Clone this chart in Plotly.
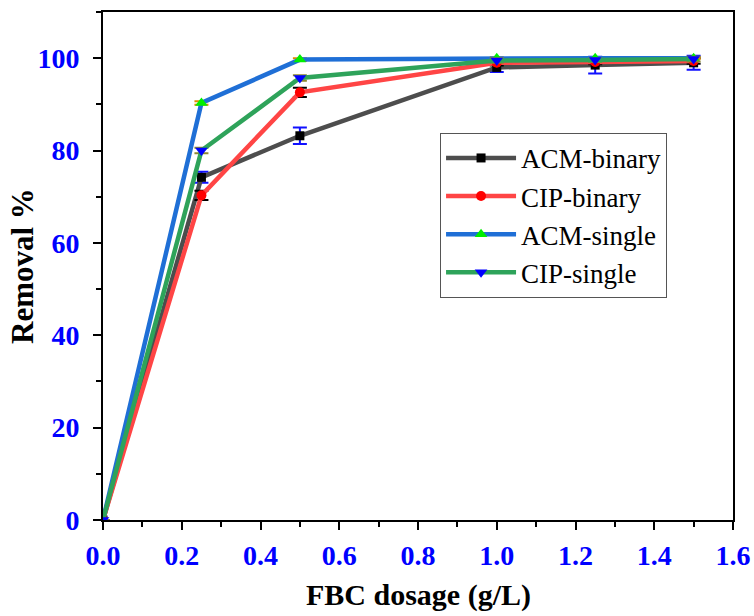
import plotly.graph_objects as go

x = [0, 0.25, 0.5, 1.0, 1.25, 1.5]
acm_binary = [0, 74.2, 83.2, 98.0, 98.5, 99.0]
acm_binary_err = [0, 1.2, 1.8, 1.0, 1.8, 1.5]
cip_binary = [0, 70.3, 92.6, 99.0, 99.2, 99.4]
cip_binary_err = [0, 1.0, 1.0, 0.6, 0.5, 0.6]
acm_single = [0, 90.3, 99.7, 100.0, 100.0, 100.0]
acm_single_err = [0, 0.4, 0.3, 0.2, 0.2, 0.2]
cip_single = [0, 80.0, 95.7, 99.5, 99.6, 99.8]
cip_single_err = [0, 0.6, 0.6, 0.5, 0.4, 0.5]

x_tickvals = [0.0, 0.2, 0.4, 0.6, 0.8, 1.0, 1.2, 1.4, 1.6]
x_ticktext = ["0.0", "0.2", "0.4", "0.6", "0.8", "1.0", "1.2", "1.4", "1.6"]
y_tickvals = [0, 20, 40, 60, 80, 100]
y_ticktext = ["0", "20", "40", "60", "80", "100"]
x_title = "FBC dosage (g/L)"
y_title = "Removal %"

series = [
    ("ACM-binary", acm_binary, acm_binary_err, "#4d4d4d", "square", "#000000", "#1010ff", 9),
    ("CIP-binary", cip_binary, cip_binary_err, "#ff4545", "circle", "#ff0000", "#000000", 10),
    ("ACM-single", acm_single, acm_single_err, "#1f6fd6", "triangle-up", "#00ee00", "#e08a00", 11),
    ("CIP-single", cip_single, cip_single_err, "#2ea35a", "triangle-down", "#0000ff", "#8f8a30", 11),
]

fig = go.Figure()
for name, y, err, lc, sym, mc, ec, ms in series:
    fig.add_trace(go.Scatter(
        x=x, y=y, name=name, mode="lines+markers",
        line=dict(color=lc, width=4.5),
        marker=dict(symbol=sym, color=mc, size=ms, line=dict(width=0)),
        error_y=dict(type="data", array=err, visible=True, color=ec, thickness=2, width=7),
    ))

font = "Liberation Serif"
tickfont = dict(family=font, size=28, color="#0000ff")

fig.update_layout(
    width=754, height=616,
    margin=dict(l=103, r=21, t=12, b=96),
    plot_bgcolor="white", paper_bgcolor="white",
    showlegend=True,
    legend=dict(
        x=0.535, y=0.762, xanchor="left", yanchor="top",
        bgcolor="white", bordercolor="#555555", borderwidth=1,
        font=dict(family=font, size=27, color="black"),
        itemwidth=70, tracegroupgap=0,
    ),
    annotations=[
        dict(text="<b>" + x_title + "</b>", xref="paper", yref="paper", x=0.5, y=0,
             yshift=-94, xanchor="center", yanchor="bottom", showarrow=False,
             font=dict(family=font, size=30, color="black")),
        dict(text="<b>" + y_title + "</b>", xref="paper", yref="paper", x=0, y=0.5,
             xshift=-81, xanchor="center", yanchor="middle", showarrow=False, textangle=-90,
             font=dict(family=font, size=31, color="black")),
    ],
)
fig.update_xaxes(
    range=[0, 1.6], tickmode="array", tickvals=x_tickvals,
    ticktext=["<b>" + t + "</b>" for t in x_ticktext],
    tickfont=tickfont, ticklabelstandoff=1, automargin=False,
    showline=True, linecolor="black", linewidth=2, mirror=True,
    ticks="outside", ticklen=8, tickwidth=2, tickcolor="black",
    showgrid=False, zeroline=False,
    minor=dict(ticks="outside", dtick=0.1, ticklen=5, tickwidth=2, tickcolor="black"),
)
fig.update_yaxes(
    range=[0, 110], tickmode="array", tickvals=y_tickvals,
    ticktext=["<b>" + t + "</b>" for t in y_ticktext],
    tickfont=tickfont, ticklabelstandoff=8, automargin=False,
    showline=True, linecolor="black", linewidth=2, mirror=True,
    ticks="outside", ticklen=8, tickwidth=2, tickcolor="black",
    showgrid=False, zeroline=False,
    minor=dict(ticks="outside", dtick=10, ticklen=5, tickwidth=2, tickcolor="black"),
)

fig.write_html("out.html")
